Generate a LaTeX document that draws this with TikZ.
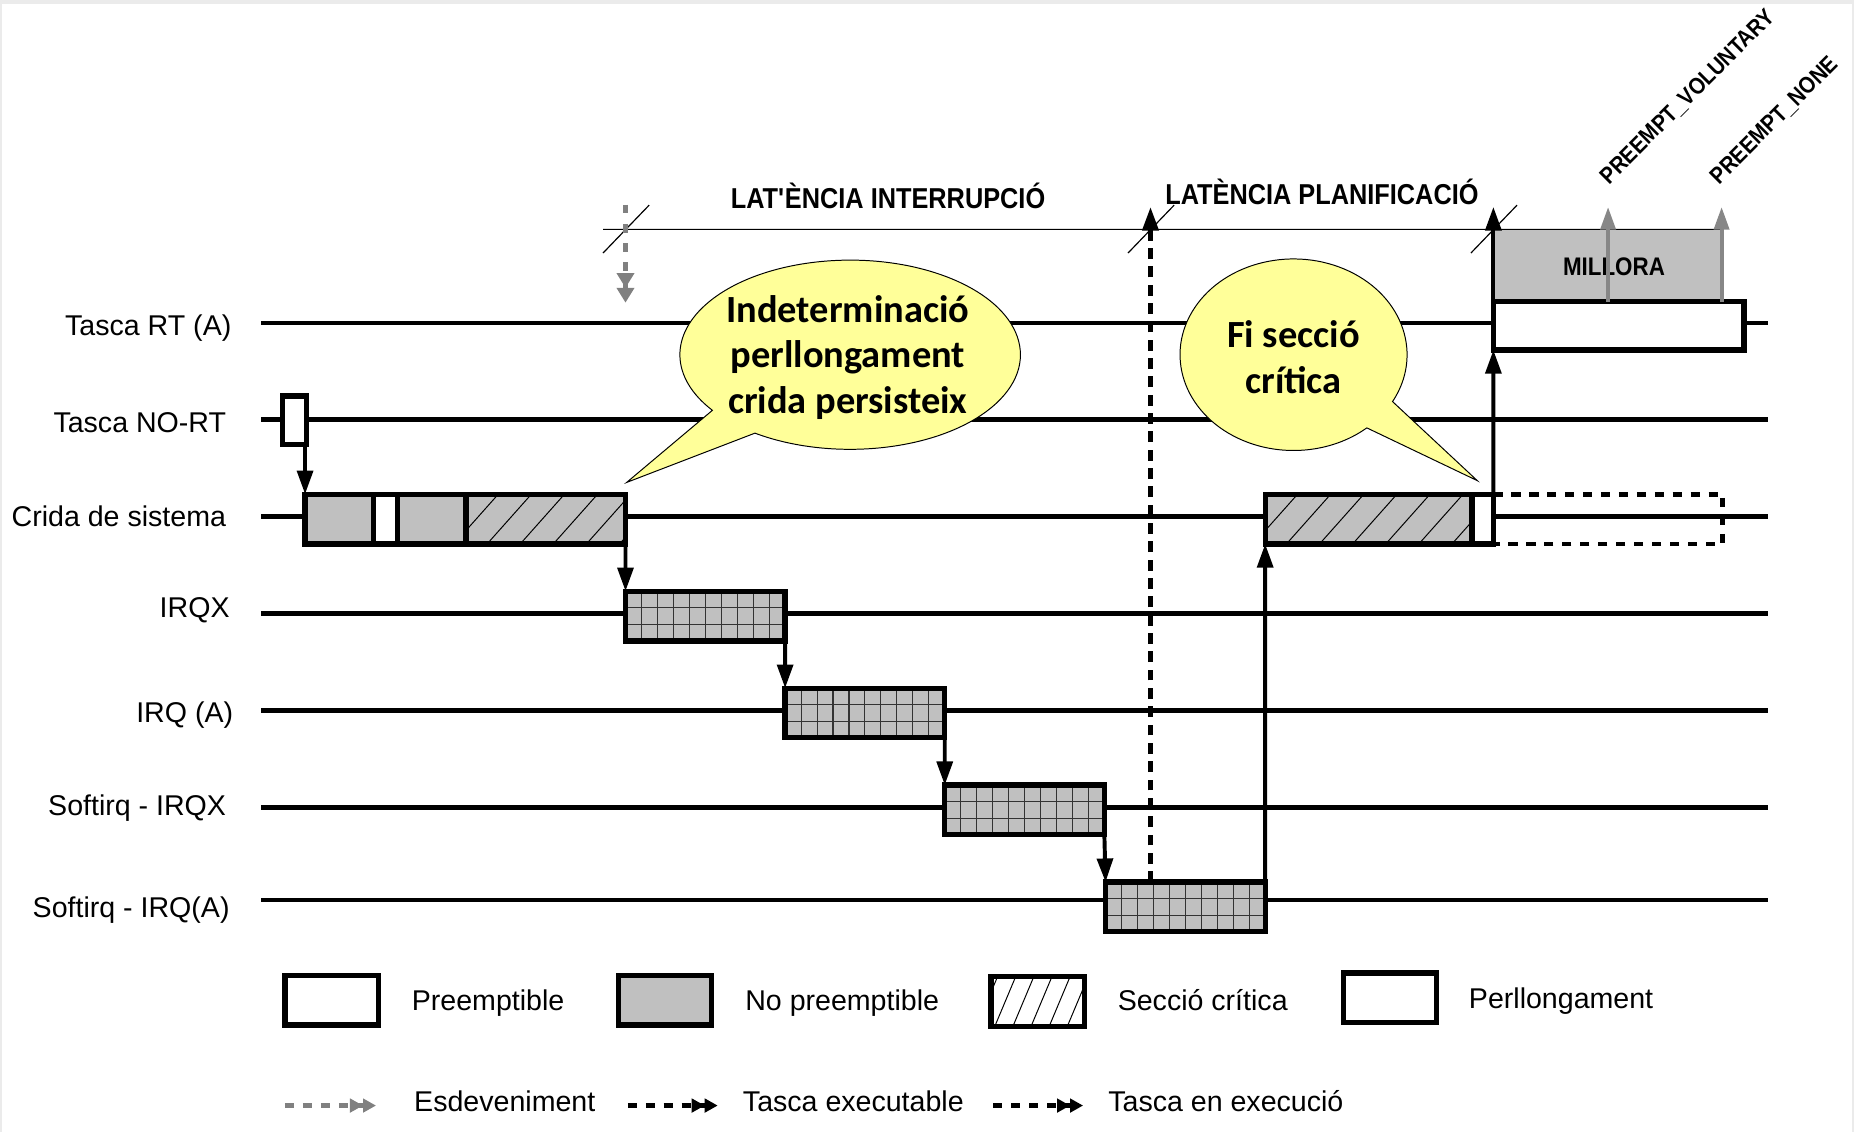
\documentclass[tikz,border=0pt]{standalone}
\usepackage{fontspec}
\setmainfont{Liberation Sans}
\newfontfamily\narrowfont[FakeStretch=0.88]{Liberation Sans}
\newfontfamily\calfont{Carlito}
\usetikzlibrary{arrows.meta,calc}
\definecolor{boxgray}{RGB}{192,192,192}
\definecolor{bubbleyellow}{RGB}{255,255,153}
\definecolor{evgray}{RGB}{128,128,128}
\definecolor{upgray}{RGB}{135,135,135}
\definecolor{framegray}{RGB}{235,235,235}
\tikzset{
  lane/.style={line width=2.3pt},
  lbl/.style={font=\fontsize{14.5pt}{17pt}\selectfont, inner sep=0pt, anchor=base east},
  ttl/.style={font=\narrowfont\bfseries\fontsize{14.6pt}{17pt}\selectfont, inner sep=0pt, anchor=base},
  rotlbl/.style={font=\narrowfont\bfseries\fontsize{11.8pt}{13pt}\selectfont, inner sep=0pt, anchor=base west, rotate=45},
  seg/.style={draw, line width=2.7pt, inner sep=0pt, outer sep=0pt, minimum height=25.2pt, anchor=west},
  critfill/.style={fill=boxgray, path picture={\foreach \k in {-2,...,8}{\draw[line width=0.5pt] ([xshift=10.8pt+\k*16.8pt]path picture bounding box.south west) -- ++(26.7pt,30pt);}}},
  legcrit/.style={fill=white, path picture={\foreach \k in {-2,...,8}{\draw[line width=0.5pt] ([xshift=2pt+\k*9.2pt]path picture bounding box.south west) -- ++(12.6pt,30pt);}}},
  irqgrid/.style={fill=boxgray, minimum width=81pt, path picture={
      \foreach \i in {1,...,9}{\draw[line width=0.55pt, black!80] ([xshift=\i*8.1pt]path picture bounding box.south west) -- ([xshift=\i*8.1pt]path picture bounding box.north west);}
      \foreach \j in {1,2}{\draw[line width=0.55pt, black!80] ([yshift=\j*8.4pt]path picture bounding box.south west) -- ([yshift=\j*8.4pt]path picture bounding box.south east);}}},
  arr/.style={line width=2pt, -{Triangle[length=12pt,width=8pt]}},
  dasharr/.style={line width=2.3pt, dash pattern=on 5.5pt off 3.8pt, -{Triangle[length=12pt,width=8pt]}},
  grayup/.style={upgray, line width=2.1pt, -{Triangle[length=11.5pt,width=7.5pt]}},
  evarr/.style={evgray, line width=2.4pt, dash pattern=on 4.4pt off 5.4pt, -{Triangle[length=7.5pt,width=8.6pt]Triangle[length=7.5pt,width=8.6pt]}},
  legev/.style={line width=2.4pt, dash pattern=on 4.7pt off 4.4pt, -{Triangle[length=6.6pt,width=6.8pt]Triangle[length=6.6pt,width=6.8pt]}},
  dashedbox/.style={line width=2.4pt, dash pattern=on 4.7pt off 4.4pt},
  bubble/.style={fill=bubbleyellow, draw=black, line width=0.5pt},
  bubtext/.style={font=\calfont\bfseries\fontsize{19.5pt}{23.1pt}\selectfont, align=center, inner sep=0pt},
  legtext/.style={font=\fontsize{14.5pt}{17pt}\selectfont, inner sep=0pt, anchor=base west},
  hair/.style={line width=0.6pt},
}
\begin{document}
\begin{tikzpicture}[x=0.6pt,y=-0.6pt]
\useasboundingbox (0,0) rectangle (1568,957);
% frame
\fill[framegray] (0,0) rectangle (1568,3);
\draw[framegray, line width=1.2pt] (1,0) -- (1,957);
\draw[framegray, line width=1.2pt] (1567,0) -- (1567,957);

% lane labels
\node[lbl] (lrt)   at (196,283.5) {Tasca RT (A)};
\node[lbl] (lnort) at (191.5,365.5) {Tasca NO-RT};
\node[lbl] (lcr)   at (191.5,445.5) {Crida de sistema};
\node[lbl] (lirqx) at (194.5,522.5) {IRQX};
\node[lbl] (lirqa) at (197.5,611) {IRQ (A)};
\node[lbl] (lsx)   at (191.5,689.5) {Softirq - IRQX};
\node[lbl] (lsa)   at (194.5,776) {Softirq - IRQ(A)};

% lanes
\draw[lane] (221,273) -- (1495,273);
\draw[lane] (221,355) -- (1495,355);
\draw[lane] (221,437) -- (1495,437);
\draw[lane] (221,519) -- (1495,519);
\draw[lane] (221,601) -- (1495,601);
\draw[lane] (221,683) -- (1495,683);
\draw[lane] (221,761) -- (1495,761);

% speech bubbles
\path[bubble] ($(719,300)+(124:144 and 80)$) arc[start angle=124, end angle=-216, x radius=144, y radius=80] -- (530,408) -- cycle;
\node[bubtext] (b1) at (717,302) {Indeterminació\\perllongament\\crida persisteix};
\path[bubble] ($(1094,300)+(29.3:96 and 81)$) arc[start angle=29.3, end angle=-310.2, x radius=96, y radius=81] -- (1249.4,406.5) -- cycle;
\node[bubtext] (b2) at (1094,302) {Fi secció\\crítica};

% latency line and ticks
\node[fill=boxgray, anchor=south west, minimum width=115.8pt, minimum height=36.6pt, inner sep=0pt, outer sep=0pt] (millora) at (1263,255) {};
\node[font=\narrowfont\bfseries\fontsize{12.9pt}{15pt}\selectfont, inner sep=0pt] (milltxt) at (1365,226) {MILLORA};
\coordinate (hl0) at (510,194);
\draw[hair] (hl0) -- (millora.north east);
\draw[hair] (510,214) -- (549,173.5);
\draw[hair] (954,214) -- (993,173.5);
\draw[hair] (1244,214) -- (1283,173.5);

\node[ttl] (tint) at (751,176) {LAT\textquotesingle ÈNCIA INTERRUPCIÓ};
\node[ttl] (tplan) at (1118,173) {LATÈNCIA PLANIFICACIÓ};
\node[rotlbl] (pv) at (1361,157) {PREEMPT\_VOLUNTARY};
\node[rotlbl] (pn) at (1454,157) {PREEMPT\_NONE};

% boxes
\node[seg, fill=white, minimum width=12pt, minimum height=24.6pt] (nort) at (239,355.5) {};
\node[seg, fill=boxgray, minimum width=34.8pt] (c1a) at (258,439) {};
\node[seg, fill=white, minimum width=12pt] (c1b) at (c1a.east) {};
\node[seg, fill=boxgray, minimum width=34.8pt] (c1c) at (c1b.east) {};
\node[seg, critfill, minimum width=81pt] (c1d) at (c1c.east) {};

\node[seg, irqgrid] (irqx) at (529,521) {};
\node[seg, irqgrid] (irqa) at (664,603) {};
\node[seg, irqgrid] (softx) at (799,685) {};
\node[seg, irqgrid] (softa) at (935,767) {};

\node[seg, critfill, minimum width=105pt] (c2a) at (1070,439) {};
\node[seg, fill=white, minimum width=10.8pt] (c2b) at (c2a.east) {};
\node[anchor=west, minimum width=116.4pt, minimum height=25.2pt, inner sep=0pt, outer sep=0pt] (ext) at (c2b.east) {};
\draw[dashedbox] (ext.north west) -- (ext.north east) -- (ext.south east) -- (ext.south west);

\node[seg, fill=white, minimum width=127.2pt, minimum height=24.6pt] (rt) at (1263,275.5) {};

% connectors
\draw[arr] (c1a.north west |- nort.south) -- (c1a.north west);
\draw[arr] (c1d.south east) -- (irqx.north west);
\draw[arr] (irqx.south east) -- (irqa.north west);
\draw[arr] (irqa.south east) -- (softx.north west);
\draw[arr] (softx.south east) -- (softa.north west);
\draw[arr] (softa.north east) -- (c2a.south west);
\draw[arr] (c2b.north east) -- (rt.south west);
\coordinate (top3) at (1263,175);
\draw[arr] (rt.north west) -- (top3);
\coordinate (top2) at (973,175);
\draw[dasharr] (softa.north -| top2) -- (top2);
\coordinate (g1) at (1360,175);
\coordinate (g2) at (1456,175);
\draw[grayup] (rt.north -| g1) -- (g1);
\draw[grayup] (rt.north -| g2) -- (g2);
\coordinate (ev0) at (529,173);
\coordinate (ev1) at (529,256);
\draw[evarr] (ev0) -- (ev1);

% legend
\node[seg, fill=white, minimum width=47.4pt] (lp) at (241,846) {};
\node[legtext] (tp) at (348,855) {Preemptible};
\node[seg, fill=boxgray, minimum width=47.4pt] (lnp) at (523,846) {};
\node[legtext] (tnp) at (630,855) {No preemptible};
\node[seg, legcrit, minimum width=47.4pt] (lc) at (838,847) {};
\node[legtext] (tc) at (945,855) {Secció crítica};
\node[seg, fill=white, minimum width=47.4pt] (lpl) at (1136,844) {};
\node[legtext] (tpl) at (1242,853) {Perllongament};

\coordinate (la0) at (241,935); \coordinate (la1) at (318,935);
\draw[legev, evgray] (la0) -- (la1);
\node[legtext] (te) at (350,940) {Esdeveniment};
\coordinate (lb0) at (531,935); \coordinate (lb1) at (607,935);
\draw[legev] (lb0) -- (lb1);
\node[legtext] (tte) at (628,940) {Tasca executable};
\coordinate (lc0) at (840,935); \coordinate (lc1) at (916,935);
\draw[legev] (lc0) -- (lc1);
\node[legtext] (tex) at (937,940) {Tasca en execució};
\end{tikzpicture}
\end{document}
